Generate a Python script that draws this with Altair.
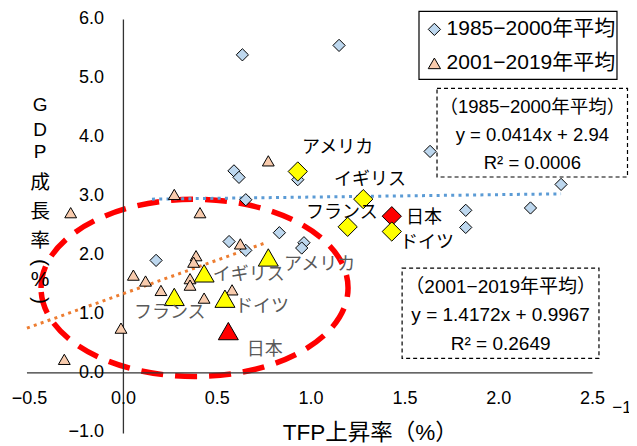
import altair as alt
import pandas as pd

FONT_MIX = "Liberation Sans, Noto Sans CJK JP"
FONT_JP = "Noto Sans CJK JP"

P1 = "1985−2000年平均"
P2 = "2001−2019年平均"
periods = [P1, P2]
period_shapes = ["diamond", "triangle-up"]
period_fills = ["#BDD7EE", "#F8CBAD"]

# ---- data ----
tfp_1985 = [0.634, 1.149, 0.589, 0.616, 0.929, 0.652, 0.831, 0.962, 0.950, 0.563,
            0.652, 0.174, 1.634, 2.332, 2.169, 1.824, 1.824]
gdp_1985 = [5.40, 5.56, 3.43, 3.32, 3.28, 2.94, 2.38, 2.21, 2.12, 2.23,
            2.08, 1.91, 3.76, 3.20, 2.80, 2.76, 2.47]

tfp_2001 = [-0.281, 0.271, 0.408, 0.053, 0.118, 0.200, 0.387, 0.374, 0.355, 0.355,
            0.430, -0.013, -0.315, 0.772, 0.623, 0.579]
gdp_2001 = [2.72, 3.03, 2.72, 1.66, 1.56, 1.40, 1.99, 1.88, 1.60, 1.49,
            1.27, 0.76, 0.23, 3.60, 2.19, 1.41]

countries = ["アメリカ", "イギリス", "フランス", "日本", "ドイツ"]
tfp_1985_hl = [0.929, 1.278, 1.195, 1.430, 1.430]
gdp_1985_hl = [3.42, 2.95, 2.48, 2.66, 2.40]
tfp_2001_hl = [0.772, 0.430, 0.271, 0.559, 0.541]
gdp_2001_hl = [1.96, 1.69, 1.29, 0.71, 1.26]

# label anchor positions (data coordinates)
lab_tfp_1985 = [0.952, 1.122, 0.973, 1.506, 1.474]
lab_gdp_1985 = [3.81, 3.268, 2.708, 2.623, 2.199]
lab_tfp_2001 = [0.856, 0.476, 0.056, 0.657, 0.595]
lab_gdp_2001 = [1.825, 1.655, 1.010, 0.382, 1.117]

trend_1985_tfp = [0.152, 2.332]
trend_1985_gdp = [2.95, 3.04]
trend_2001_tfp = [-0.514, 0.767]
trend_2001_gdp = [0.76, 2.22]

y_ticks = [6, 5, 4, 3, 2, 1, 0, -1]
y_tick_labels = ["6.0", "5.0", "4.0", "3.0", "2.0", "1.0", "0.0", "−1.0"]
x_ticks = [-0.5, 0, 0.5, 1.0, 1.5, 2.0, 2.5]
x_tick_labels = ["−0.5", "0.0", "0.5", "1.0", "1.5", "2.0", "2.5"]

eq1_lines = ["（1985−2000年平均）", "y = 0.0414x + 2.94", "R² = 0.0006"]
eq2_lines = ["（2001−2019年平均）", "y = 1.4172x + 0.9967", "R² = 0.2649"]

y_title_latin = ["G", "D", "P"]
y_title_kanji = ["成", "長", "率"]

# ---- scales ----
xs = alt.Scale(domain=[-0.615, 2.694], nice=False, zero=False)
ys = alt.Scale(domain=[-1.224, 6.195], nice=False, zero=False)


def xq(f):
    return alt.X(f, type="quantitative", scale=xs, axis=None)


def yq(f):
    return alt.Y(f, type="quantitative", scale=ys, axis=None)


def xd(v):
    return alt.XDatum(v, scale=xs, axis=None)


def yd(v):
    return alt.YDatum(v, scale=ys, axis=None)


one = pd.DataFrame({"k": [0]})


def text_at(txt, x, y, size=18, font=FONT_MIX, align="center", baseline="middle",
            color="black", **kw):
    return alt.Chart(one).mark_text(text=txt, fontSize=size, font=font, align=align,
                                    baseline=baseline, color=color, **kw).encode(
        x=xd(x), y=yd(y))


layers = []

# red dashed ellipse
ELLIPSE = "M-1,0A1,0.577,0,1,1,1,0A1,0.577,0,1,1,-1,0Z"
layers.append(alt.Chart(one).mark_point(shape=ELLIPSE, size=307 ** 2, filled=False,
                                        stroke="#FF0000", strokeWidth=5.5,
                                        strokeDash=[22, 12], opacity=1).encode(
    x=xd(0.379), y=yd(1.443)))

# axis lines
layers.append(alt.Chart(one).mark_rule(color="#333333", strokeWidth=1.3).encode(
    x=xd(-0.514), x2=alt.X2Datum(2.5), y=yd(0)))
layers.append(alt.Chart(one).mark_rule(color="#333333", strokeWidth=1.3).encode(
    x=xd(0), y=yd(-1.03), y2=alt.Y2Datum(6.0)))

# trend lines
df_t1 = pd.DataFrame({"tfp": trend_1985_tfp, "gdp": trend_1985_gdp})
df_t2 = pd.DataFrame({"tfp": trend_2001_tfp, "gdp": trend_2001_gdp})
layers.append(alt.Chart(df_t1).mark_line(color="#5B9BD5", strokeWidth=3,
                                         strokeDash=[3, 4.3]).encode(
    x=xq("tfp"), y=yq("gdp")))
layers.append(alt.Chart(df_t2).mark_line(color="#ED7D31", strokeWidth=3,
                                         strokeDash=[3, 4.3]).encode(
    x=xq("tfp"), y=yq("gdp")))

# base points
df_pts = pd.DataFrame({
    "period": [P1] * len(tfp_1985) + [P2] * len(tfp_2001),
    "tfp": tfp_1985 + tfp_2001,
    "gdp": gdp_1985 + gdp_2001,
})
shape_enc = alt.Shape("period:N", scale=alt.Scale(domain=periods, range=period_shapes),
                      legend=None)
fill_enc = alt.Fill("period:N", scale=alt.Scale(domain=periods, range=period_fills),
                    legend=None)
layers.append(alt.Chart(df_pts).mark_point(filled=True, stroke="black", strokeWidth=1,
                                           opacity=1).encode(
    x=xq("tfp"), y=yq("gdp"), shape=shape_enc, fill=fill_enc,
    size=alt.Size("period:N", scale=alt.Scale(domain=periods, range=[150, 140]),
                  legend=None),
))

# highlighted countries
df_h1 = pd.DataFrame({"country": countries, "tfp": tfp_1985_hl, "gdp": gdp_1985_hl,
                      "ltfp": lab_tfp_1985, "lgdp": lab_gdp_1985})
df_h2 = pd.DataFrame({"country": countries, "tfp": tfp_2001_hl, "gdp": gdp_2001_hl,
                      "ltfp": lab_tfp_2001, "lgdp": lab_gdp_2001})
hl_fill = alt.condition(alt.datum.country == "日本", alt.value("#FF0000"),
                        alt.value("#FFFF00"))
layers.append(alt.Chart(df_h1).mark_point(shape="diamond", size=370, filled=True,
                                          stroke="black", strokeWidth=1, opacity=1).encode(
    x=xq("tfp"), y=yq("gdp"), fill=hl_fill))
layers.append(alt.Chart(df_h2).mark_point(shape="triangle-up", size=400, filled=True,
                                          stroke="black", strokeWidth=1, opacity=1).encode(
    x=xq("tfp"), y=yq("gdp"), fill=hl_fill))

layers.append(alt.Chart(df_h1).mark_text(font=FONT_JP, fontSize=18, align="left",
                                         baseline="middle", color="black").encode(
    x=xq("ltfp"), y=yq("lgdp"), text="country:N"))
layers.append(alt.Chart(df_h2).mark_text(font=FONT_JP, fontSize=18, align="left",
                                         baseline="middle", color="#595959").encode(
    x=xq("ltfp"), y=yq("lgdp"), text="country:N"))

# legend (drawn as a box with the two series' symbols)
layers.append(alt.Chart(one).mark_rect(fill="white", stroke="black", strokeWidth=1.2).encode(
    x=xd(1.575), x2=alt.X2Datum(2.630), y=yd(6.138), y2=alt.Y2Datum(4.983)))
df_leg = pd.DataFrame({"period": periods})
for i, yy in enumerate([5.832, 5.255]):
    layers.append(alt.Chart(df_leg).transform_filter(
        alt.datum.period == periods[i]).mark_point(
        filled=True, stroke="black", strokeWidth=1, opacity=1, size=150).encode(
        x=xd(1.657), y=yd(yy), shape=shape_enc, fill=fill_enc))
    layers.append(text_at(periods[i], 1.722, yy, size=21, align="left"))

# equation boxes
layers.append(alt.Chart(one).mark_rect(fill="white", stroke="black", strokeWidth=1.2,
                                       strokeDash=[4, 3]).encode(
    x=xd(1.671), x2=alt.X2Datum(2.686), y=yd(4.830), y2=alt.Y2Datum(3.326)))
layers.append(alt.Chart(one).mark_rect(fill="white", stroke="black", strokeWidth=1.2,
                                       strokeDash=[4, 3]).encode(
    x=xd(1.485), x2=alt.X2Datum(2.534), y=yd(1.779), y2=alt.Y2Datum(0.246)))
for txt, yy in zip(eq1_lines, [4.507, 4.032, 3.557]):
    layers.append(text_at(txt, 2.179, yy, size=18.5))
for txt, yy in zip(eq2_lines, [1.452, 0.976, 0.484]):
    layers.append(text_at(txt, 2.010, yy, size=19))

# tick labels
df_yt = pd.DataFrame({"v": y_ticks, "t": y_tick_labels})
df_xt = pd.DataFrame({"v": x_ticks, "t": x_tick_labels})
layers.append(alt.Chart(df_yt).mark_text(font="Liberation Sans", fontSize=18,
                                         align="right", baseline="middle",
                                         color="black").encode(
    x=xd(-0.103), y=yq("v"), text="t:N"))
layers.append(alt.Chart(df_xt).mark_text(font="Liberation Sans", fontSize=18,
                                         align="center", baseline="middle",
                                         color="black").encode(
    x=xq("v"), y=yd(-0.45), text="t:N"))
layers.append(text_at("−1.0", 2.605, -0.603, size=17, font="Liberation Sans",
                      align="left"))

# axis titles
layers.append(text_at("TFP上昇率（%）", 1.315, -1.027, size=22.5))
for ch, yy in zip(y_title_latin, [4.542, 4.117, 3.744]):
    layers.append(text_at(ch, -0.444, yy, size=19, font="Liberation Sans"))
for ch, yy in zip(y_title_kanji, [3.226, 2.733, 2.241]):
    layers.append(text_at(ch, -0.444, yy, size=19.8, font=FONT_JP))
layers.append(text_at("(", -0.444, 1.876, size=21, font="Liberation Sans", angle=90))
layers.append(text_at("%", -0.444, 1.570, size=21, font="Liberation Sans"))
layers.append(text_at(")", -0.444, 1.231, size=21, font="Liberation Sans", angle=90))

chart = alt.layer(*layers).properties(
    width=621, height=437, padding=0,
    autosize=alt.AutoSizeParams(type="none"),
    background="white",
).configure_view(stroke=None)

chart.save("out.html", embed_options={"renderer": "svg", "actions": False})
